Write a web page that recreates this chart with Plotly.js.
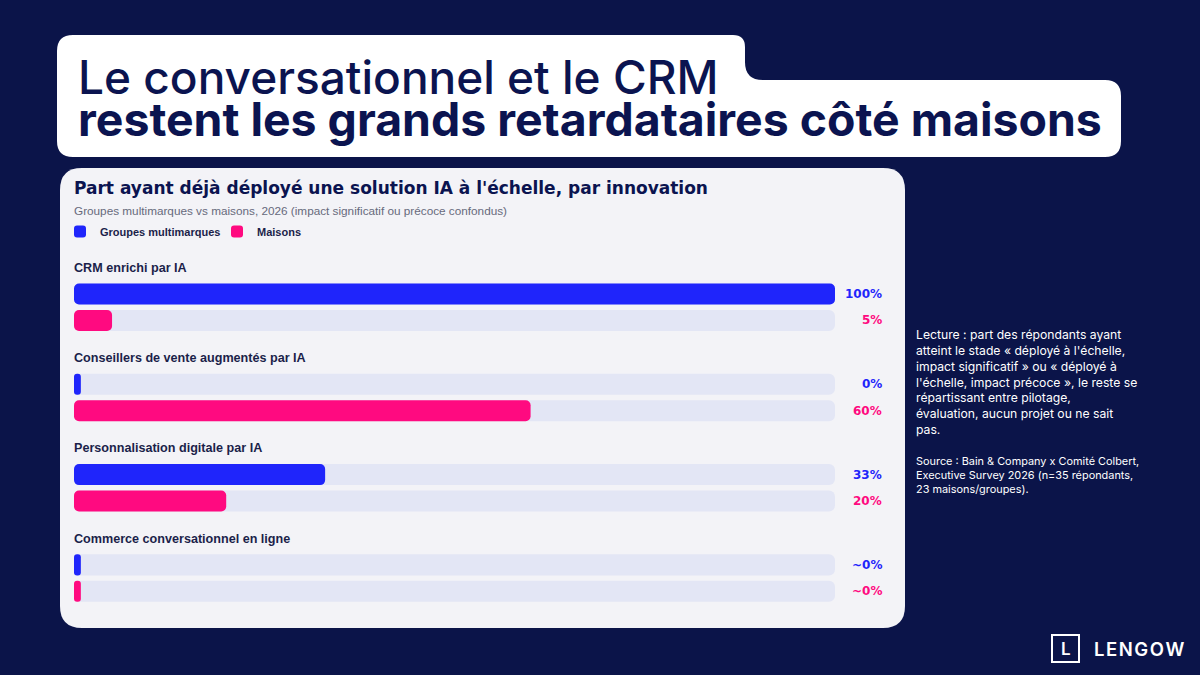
<!DOCTYPE html>
<html>
<head>
<meta charset="utf-8">
<script src="https://cdn.plot.ly/plotly-3.0.1.min.js"></script>
<style>
  html, body { margin: 0; padding: 0; background: #0b1449; }
  #chart { width: 1200px; height: 675px; }
</style>
</head>
<body>
<div id="chart"></div>
<script>
// Innovations surveyed and the share of respondents already deployed at scale
const categories = [
  'CRM enrichi par IA',
  'Conseillers de vente augmentés par IA',
  'Personnalisation digitale par IA',
  'Commerce conversationnel en ligne'
];
const groupesValues = [100, 0, 33, 0];
const maisonsValues = [5, 60, 20, 0];
const groupesLabels = ['100%', '0%', '33%', '~0%'];
const maisonsLabels = ['5%', '60%', '20%', '~0%'];
const seriesNames = ['Groupes multimarques', 'Maisons'];

const W = 1200, H = 675;
const NAVY = '#0b1449';
const INK = '#0b1450';
const BLUE = '#1f25fb';
const PINK = '#ff0a80';
const TRACK = '#e3e6f5';
const PANEL = '#f3f3f7';

// page pixel -> paper fraction
const px = x => x / W;
const py = y => 1 - y / H;
const P = (x, y) => px(x).toFixed(5) + ',' + py(y).toFixed(5);

function roundedRect(x0, y0, x1, y1, r) {
  return 'M' + P(x0 + r, y0) + ' L' + P(x1 - r, y0) + ' Q' + P(x1, y0) + ' ' + P(x1, y0 + r) +
    ' L' + P(x1, y1 - r) + ' Q' + P(x1, y1) + ' ' + P(x1 - r, y1) +
    ' L' + P(x0 + r, y1) + ' Q' + P(x0, y1) + ' ' + P(x0, y1 - r) +
    ' L' + P(x0, y0 + r) + ' Q' + P(x0, y0) + ' ' + P(x0 + r, y0) + ' Z';
}

// headline card: short top tab joined to a wider lower band
const headlinePath =
  'M' + P(73, 35) + ' L' + P(733, 35) + ' Q' + P(745, 35) + ' ' + P(745, 47) +
  ' L' + P(745, 62) + ' Q' + P(745, 80) + ' ' + P(763, 80) +
  ' L' + P(1105, 80) + ' Q' + P(1121, 80) + ' ' + P(1121, 96) +
  ' L' + P(1121, 141) + ' Q' + P(1121, 157) + ' ' + P(1105, 157) +
  ' L' + P(73, 157) + ' Q' + P(57, 157) + ' ' + P(57, 141) +
  ' L' + P(57, 51) + ' Q' + P(57, 35) + ' ' + P(73, 35) + ' Z';

// row geometry in category units (1 unit = one innovation block)
const PINK_OFFSET = 0.293;
const LABEL_OFFSET = -0.29;
const BAR_W = 0.233;
const MIN_VISIBLE = 0.9;   // keeps zero-valued bars visible as a small stub

const yBlue = categories.map((c, i) => i);
const yPink = categories.map((c, i) => i + PINK_OFFSET);
const shown = v => Math.max(v, MIN_VISIBLE);

// an explicit base makes Plotly round both ends of each bar
function pillBars(values, ys, color, radius, extra) {
  return Object.assign({
    type: 'bar', orientation: 'h', width: BAR_W,
    hoverinfo: 'skip', xaxis: 'x', yaxis: 'y',
    x: values.map(shown), base: values.map(() => 0), y: ys,
    marker: { color: color, cornerradius: radius }
  }, extra);
}

const trackValues = categories.map(() => 100).concat(categories.map(() => 100));
const traces = [
  pillBars(trackValues, yBlue.concat(yPink), TRACK, 6, { showlegend: false }),
  pillBars(groupesValues, yBlue, BLUE, 5, { name: seriesNames[0] }),
  pillBars(maisonsValues, yPink, PINK, 5, { name: seriesNames[1] })
];

const annotations = [];
const labelFont = { family: 'Liberation Sans, Arial, sans-serif', size: 12.6, color: '#1b1f4a', weight: 700 };
const valueFont = c => ({ family: 'DejaVu Sans, Verdana, sans-serif', size: 12, color: c, weight: 700 });

categories.forEach((c, i) => {
  annotations.push({
    xref: 'x', yref: 'y', x: 0, y: i + LABEL_OFFSET, text: c, xshift: -2,
    xanchor: 'left', yanchor: 'middle', showarrow: false, font: labelFont
  });
  annotations.push({
    xref: 'x', yref: 'y', x: 100, y: yBlue[i], text: groupesLabels[i], xshift: 49,
    xanchor: 'right', yanchor: 'middle', showarrow: false, font: valueFont(BLUE)
  });
  annotations.push({
    xref: 'x', yref: 'y', x: 100, y: yPink[i], text: maisonsLabels[i], xshift: 49,
    xanchor: 'right', yanchor: 'middle', showarrow: false, font: valueFont(PINK)
  });
});

// headline
annotations.push({
  xref: 'paper', yref: 'paper', x: px(76), y: py(77), text: 'Le conversationnel et le CRM',
  xanchor: 'left', yanchor: 'middle', showarrow: false,
  font: { family: 'Inter, sans-serif', size: 46, color: INK, weight: 500 }
});
annotations.push({
  xref: 'paper', yref: 'paper', x: px(76), y: py(119), text: 'restent les grands retardataires côté maisons',
  xanchor: 'left', yanchor: 'middle', showarrow: false,
  font: { family: 'Inter, sans-serif', size: 46.4, color: INK, weight: 700 }
});

// chart header
annotations.push({
  xref: 'paper', yref: 'paper', x: px(72), y: py(188),
  text: "Part ayant déjà déployé une solution IA à l'échelle, par innovation",
  xanchor: 'left', yanchor: 'middle', showarrow: false,
  font: { family: 'DejaVu Sans, Verdana, sans-serif', size: 17, color: INK, weight: 700 }
});
annotations.push({
  xref: 'paper', yref: 'paper', x: px(72), y: py(210),
  text: 'Groupes multimarques vs maisons, 2026 (impact significatif ou précoce confondus)',
  xanchor: 'left', yanchor: 'middle', showarrow: false,
  font: { family: 'Liberation Sans, Arial, sans-serif', size: 11.75, color: '#676a7c' }
});

// reading note and source
annotations.push({
  xref: 'paper', yref: 'paper', x: px(914), y: py(325), align: 'left',
  text: "Lecture : part des répondants ayant<br>atteint le stade « déployé à l'échelle,<br>impact significatif » ou « déployé à<br>l'échelle, impact précoce », le reste se<br>répartissant entre pilotage,<br>évaluation, aucun projet ou ne sait<br>pas.",
  xanchor: 'left', yanchor: 'top', showarrow: false,
  font: { family: 'Inter, sans-serif', size: 12.2, color: '#ffffff' }
});
annotations.push({
  xref: 'paper', yref: 'paper', x: px(914), y: py(452), align: 'left',
  text: 'Source : Bain & Company x Comité Colbert,<br>Executive Survey 2026 (n=35 répondants,<br>23 maisons/groupes).',
  xanchor: 'left', yanchor: 'top', showarrow: false,
  font: { family: 'Inter, sans-serif', size: 10.9, color: '#ffffff' }
});

// brand mark
annotations.push({
  xref: 'paper', yref: 'paper', x: px(1065.5), y: py(649), text: 'L',
  xanchor: 'center', yanchor: 'middle', showarrow: false,
  font: { family: 'Inter, sans-serif', size: 17, color: '#ffffff', weight: 600 }
});
annotations.push({
  xref: 'paper', yref: 'paper', x: px(1092), y: py(649), text: 'L\u200AE\u200AN\u200AG\u200AO\u200AW',
  xanchor: 'left', yanchor: 'middle', showarrow: false,
  font: { family: 'Inter, sans-serif', size: 18.5, color: '#ffffff', weight: 600 }
});

const shapes = [
  { type: 'path', xref: 'paper', yref: 'paper', path: headlinePath, fillcolor: '#ffffff', line: { width: 0 }, layer: 'below' },
  { type: 'path', xref: 'paper', yref: 'paper', path: roundedRect(60, 168, 905, 628, 22), fillcolor: PANEL, line: { width: 0 }, layer: 'below' },
  { type: 'rect', xref: 'paper', yref: 'paper', x0: px(1052), x1: px(1079), y0: py(662), y1: py(635),
    fillcolor: 'rgba(0,0,0,0)', line: { color: '#ffffff', width: 2 }, layer: 'above' }
];

const layout = {
  width: W, height: H, autosize: false,
  margin: { l: 0, r: 0, t: 0, b: 0, pad: 0 },
  paper_bgcolor: NAVY, plot_bgcolor: 'rgba(0,0,0,0)',
  barmode: 'overlay',
  showlegend: true,
  legend: {
    orientation: 'h', x: px(60), y: py(217), xanchor: 'left', yanchor: 'top',
    bgcolor: 'rgba(0,0,0,0)', traceorder: 'normal', entrywidth: 112,
    font: { family: 'Liberation Sans, Arial, sans-serif', size: 11, color: '#1b1f4a', weight: 700 },
    itemclick: false, itemdoubleclick: false
  },
  xaxis: {
    domain: [px(74), px(835)], range: [0, 100], fixedrange: true,
    showgrid: false, zeroline: false, showticklabels: false, showline: false
  },
  yaxis: {
    domain: [py(615), py(250)], range: [3.555, -0.487], fixedrange: true,
    showgrid: false, zeroline: false, showticklabels: false, showline: false
  },
  shapes: shapes,
  annotations: annotations
};

Plotly.newPlot('chart', traces, layout, { displayModeBar: false, staticPlot: true });
</script>
</body>
</html>
